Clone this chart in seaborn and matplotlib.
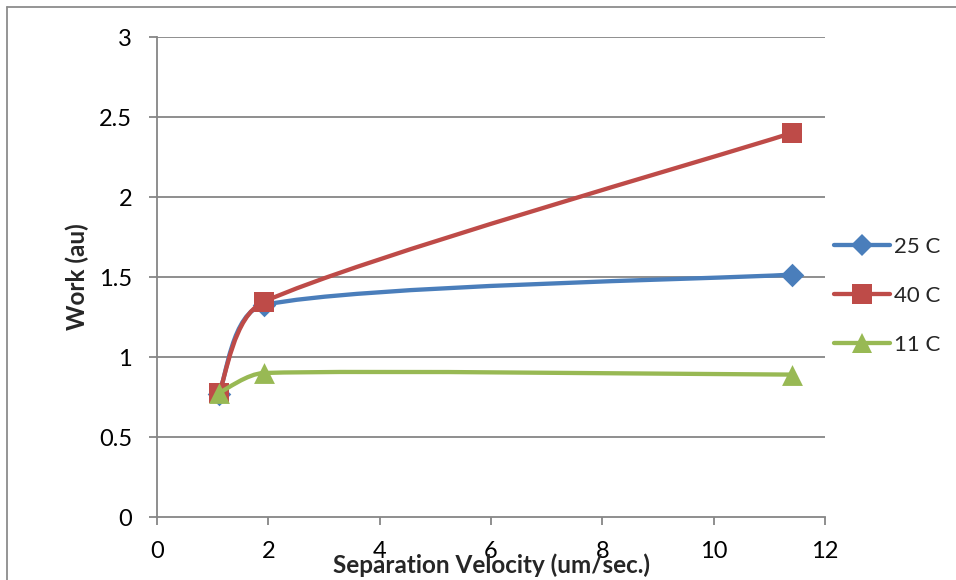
import numpy as np
import pandas as pd
import matplotlib
matplotlib.use("Agg")
import matplotlib.pyplot as plt
import seaborn as sns
from matplotlib.path import Path
from matplotlib.patches import PathPatch
from matplotlib.lines import Line2D

# ---- data ----
velocity = [1.11, 1.92, 11.4]
work_25 = [0.77, 1.325, 1.515]
work_40 = [0.775, 1.345, 2.40]
work_11 = [0.775, 0.90, 0.89]
series_names = ["25 C", "40 C", "11 C"]
x_ticks = [0, 2, 4, 6, 8, 10, 12]
y_ticks = [0, 0.5, 1, 1.5, 2, 2.5, 3]
y_tick_labels = ["0", "0.5", "1", "1.5", "2", "2.5", "3"]

colors = {"25 C": "#4A7EBB", "40 C": "#BE4B48", "11 C": "#98B954"}
markers = {"25 C": "D", "40 C": "s", "11 C": "^"}
msizes = {"25 C": 12, "40 C": 14.5, "11 C": 15}

df = pd.DataFrame({
    "velocity": velocity * 3,
    "work": work_25 + work_40 + work_11,
    "series": sum([[n] * len(velocity) for n in series_names], []),
})

sns.set_theme(style="white")
plt.rcParams["font.family"] = ["Lato", "DejaVu Sans"]

fig = plt.figure(figsize=(9.56, 5.8), dpi=100)
ax = fig.add_axes([157 / 956, 1 - 517 / 580, (825 - 157) / 956, (517 - 37) / 580])
ax.set_xlim(0, 12)
ax.set_ylim(0, 3)

grid_c = "#868686"
ax.set_yticks(y_ticks)
ax.set_yticklabels(y_tick_labels)
ax.set_xticks(x_ticks)
for y in y_ticks[1:]:
    ax.axhline(y, color=grid_c, lw=1.3, zorder=1)
for s in ["top", "right"]:
    ax.spines[s].set_visible(False)
for s in ["left", "bottom"]:
    ax.spines[s].set_color(grid_c)
    ax.spines[s].set_linewidth(1.3)
ax.tick_params(axis="both", which="major", length=6, width=1.3, color=grid_c,
               labelsize=17, labelcolor="black", direction="out",
               left=True, bottom=True)
ax.tick_params(axis="y", pad=12)
ax.tick_params(axis="x", pad=11)


def smooth_path(xs, ys):
    # Excel-like smoothing: cubic bezier segments, tangents from neighbours (tension 1/6),
    # control arms capped at a third of the segment; computed in display space
    pts = ax.transData.transform(np.column_stack([xs, ys]))
    n = len(pts)
    ext = np.vstack([pts[0], pts, pts[-1]])
    verts = [pts[0]]
    codes = [Path.MOVETO]
    for i in range(n - 1):
        p0, p1, p2, p3 = ext[i], ext[i + 1], ext[i + 2], ext[i + 3]
        L = np.linalg.norm(p2 - p1)
        a = (p2 - p0) / 6.0
        b = (p3 - p1) / 6.0
        if np.linalg.norm(a) > L / 3:
            a = a / np.linalg.norm(a) * L / 3
        if np.linalg.norm(b) > L / 3:
            b = b / np.linalg.norm(b) * L / 3
        verts += [p1 + a, p2 - b, p2]
        codes += [Path.CURVE4] * 3
    verts = ax.transData.inverted().transform(np.array(verts))
    return Path(verts, codes)


order = ["25 C", "40 C", "11 C"]
for k, name in enumerate(order):
    sub = df[df["series"] == name]
    path = smooth_path(sub["velocity"].values, sub["work"].values)
    patch = PathPatch(path, facecolor="none", edgecolor=colors[name], lw=3.1,
                      capstyle="round", joinstyle="round", zorder=3 + k * 2)
    ax.add_patch(patch)
    sns.scatterplot(data=sub, x="velocity", y="work", ax=ax, color=colors[name],
                    marker=markers[name], s=msizes[name] ** 2, edgecolor=colors[name],
                    linewidth=0, zorder=4 + k * 2, legend=False)

ax.set_xlabel("")
ax.set_ylabel("")
fig.text(77 / 956, 1 - 277 / 580, "Work (au)", rotation=90, ha="center", va="center",
         fontsize=17.5, fontweight="bold")
fig.text(492 / 956, 1 - 565 / 580, "Separation Velocity (um/sec.)", ha="center",
         va="center", fontsize=17.5, fontweight="bold")

handles = [Line2D([0], [0], color=colors[n], lw=3.1, marker=markers[n],
                  markersize=msizes[n] * 0.95, markeredgewidth=0, solid_capstyle="round")
           for n in order]
leg = fig.legend(handles, order, loc="center left",
                 bbox_to_anchor=(834 / 956, 1 - 296 / 580), frameon=False,
                 fontsize=16, handlelength=2.5, handletextpad=0.22,
                 labelspacing=1.3, borderpad=0, borderaxespad=0)

# outer chart frame (top and left edges visible)
fig.add_artist(Line2D([7 / 956, 1.0], [1 - 7 / 580, 1 - 7 / 580],
                      transform=fig.transFigure, color="#8c8c8c", lw=1.3))
fig.add_artist(Line2D([7 / 956, 7 / 956], [0, 1 - 7 / 580],
                      transform=fig.transFigure, color="#8c8c8c", lw=1.3))

fig.savefig("out.png", dpi=100, facecolor="white")
